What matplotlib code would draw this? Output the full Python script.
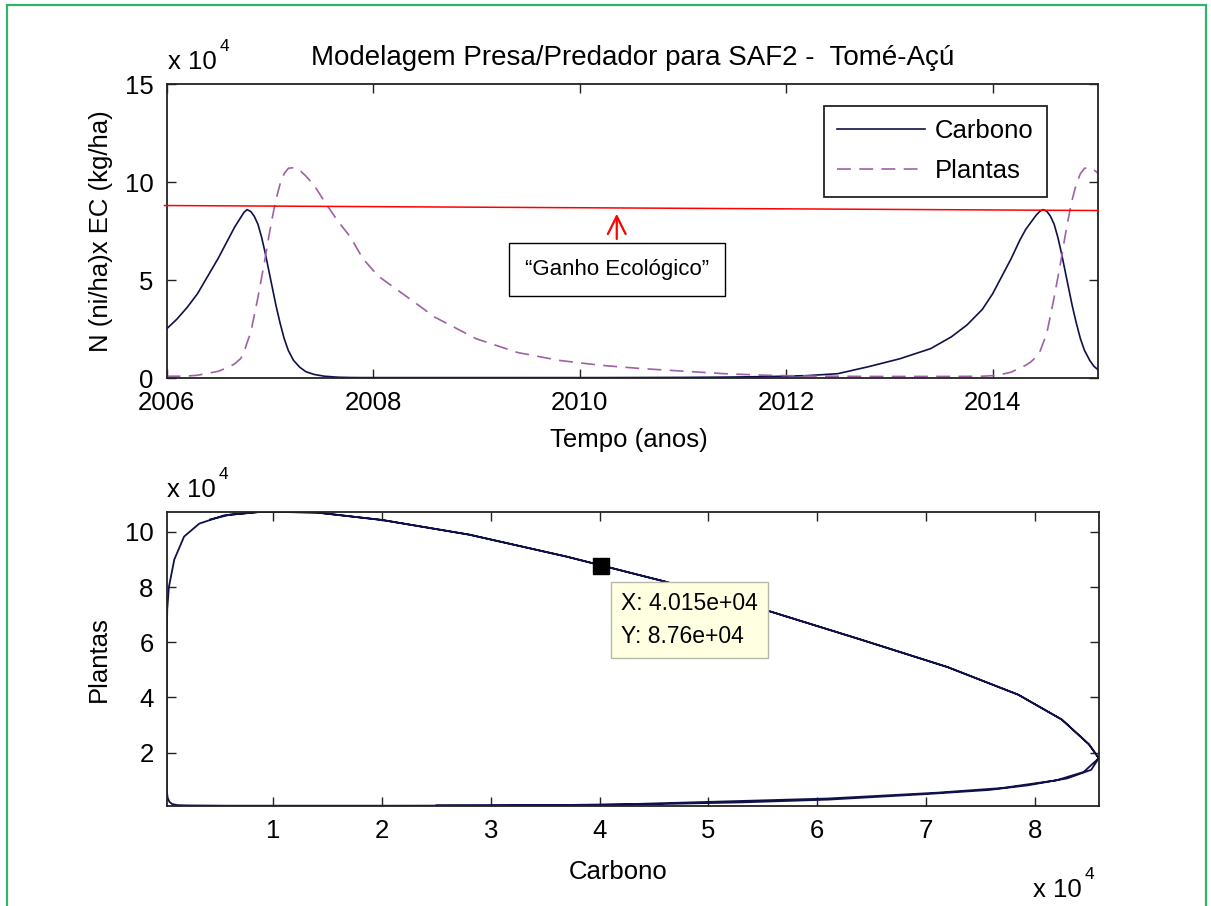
import numpy as np
import matplotlib
matplotlib.use("Agg")
import matplotlib.pyplot as plt
from matplotlib.patches import Rectangle

plt.rcParams['font.family'] = ['Liberation Sans', 'DejaVu Sans']
plt.rcParams['lines.scale_dashes'] = False

# ── Dados (valores em unidades de 10^4) ──────────────────────────
tempo = [2006.00, 2006.10, 2006.20, 2006.30, 2006.40, 2006.50, 2006.60, 2006.66,
         2006.72, 2006.75, 2006.78, 2006.815, 2006.85, 2006.885, 2006.92, 2006.955,
         2006.99, 2007.025, 2007.06, 2007.10, 2007.14, 2007.18, 2007.23, 2007.29,
         2007.35, 2007.43, 2007.53, 2007.66, 2007.78, 2007.90, 2008.05, 2008.30,
         2008.60, 2009.00, 2009.40, 2009.80, 2010.20, 2010.60, 2011.00, 2011.40,
         2011.80, 2012.20, 2012.50, 2012.80, 2013.10, 2013.40, 2013.60, 2013.75,
         2013.90, 2014.00, 2014.10, 2014.18, 2014.26, 2014.32, 2014.37, 2014.42,
         2014.46, 2014.49, 2014.525, 2014.56, 2014.595, 2014.63, 2014.665, 2014.70,
         2014.735, 2014.77, 2014.81, 2014.85, 2014.89, 2014.94, 2014.98, 2015.02]

carbono = [2.5, 3.0, 3.6, 4.3, 5.2, 6.1, 7.1, 7.7,
           8.2, 8.45, 8.59, 8.50, 8.25, 7.85, 7.2, 6.4,
           5.5, 4.6, 3.7, 2.8, 2.0, 1.4, 0.9, 0.55,
           0.32, 0.18, 0.09, 0.04, 0.025, 0.02, 0.02, 0.02,
           0.02, 0.02, 0.02, 0.02, 0.02, 0.025, 0.03, 0.045,
           0.07, 0.12, 0.22, 0.58, 0.98, 1.5, 2.1, 2.7,
           3.5, 4.3, 5.3, 6.1, 7.0, 7.58, 7.94, 8.3,
           8.52, 8.59, 8.50, 8.25, 7.85, 7.2, 6.4, 5.5,
           4.6, 3.7, 2.8, 2.0, 1.4, 0.9, 0.6, 0.42]

plantas = [0.09, 0.09, 0.10, 0.14, 0.24, 0.34, 0.55, 0.72,
           1.0, 1.3, 1.8, 2.3, 3.2, 4.1, 5.1, 6.1,
           7.2, 8.2, 9.1, 9.9, 10.43, 10.7, 10.73, 10.6,
           10.3, 9.83, 9.0, 8.0, 7.2, 6.1, 5.2, 4.25,
           3.1, 2.0, 1.3, 0.9, 0.65, 0.48, 0.35, 0.22,
           0.14, 0.10, 0.09, 0.08, 0.08, 0.08, 0.08, 0.085,
           0.09, 0.12, 0.20, 0.30, 0.50, 0.65, 0.82, 1.07,
           1.38, 1.8, 2.3, 3.2, 4.1, 5.1, 6.1, 7.2,
           8.2, 9.1, 9.9, 10.43, 10.7, 10.73, 10.62, 10.45]

ganho_ini = 8.80      # linha "Ganho Ecológico" (início / fim)
ganho_fim = 8.545
tip_x, tip_y = 4.015, 8.76   # data tip

W, H = 1211, 906
FS = 18.5
C_LINE = "#10104a"
C_PLANT = "#a060a6"

fig = plt.figure(figsize=(W / 100, H / 100), dpi=100)


def px(x, y):
    return x / W, 1 - y / H


# moldura verde
fig.patches.append(Rectangle(px(7, 960), (1206 - 7) / W, (960 - 5) / H,
                             transform=fig.transFigure, fill=False,
                             edgecolor="#2fb56a", linewidth=1.6))


def style_axes(ax):
    for s in ax.spines.values():
        s.set_linewidth(1.3)
        s.set_color("#222222")
    ax.tick_params(direction="in", top=True, right=True, length=6.5,
                   width=1.0, labelsize=FS, color="#222222")
    ax.tick_params(axis="x", pad=9.5)
    ax.tick_params(axis="y", pad=9.5)


def x10(x, y):
    fig.text(x / W, 1 - y / H, "x 10", fontsize=18.5, ha="left", va="baseline")
    fig.text((x + 52) / W, 1 - (y - 18) / H, "4", fontsize=12.5, ha="left",
             va="baseline")


# ── Gráfico superior: séries temporais ───────────────────────────
ax1 = fig.add_axes([166.5 / W, 1 - 378 / H, (1098 - 166.5) / W, (378 - 84) / H])
ax1.plot(tempo, carbono, color=C_LINE, lw=1.2, label="Carbono")
ax1.plot(tempo, plantas, color=C_PLANT, lw=1.2, dashes=(10, 6), label="Plantas")
ax1.set_xlim(2006, 2015.02)
ax1.set_ylim(0, 15)
ax1.set_xticks([2006, 2008, 2010, 2012, 2014])
ax1.set_yticks([0, 5, 10, 15])
style_axes(ax1)
ax1.set_title("Modelagem Presa/Predador para SAF2 -  Tomé-Açú", fontsize=20, pad=14)
ax1.set_xlabel("Tempo (anos)", fontsize=FS)
ax1.xaxis.set_label_coords((629 - 166.5) / (1098 - 166.5), -(440 - 378) / 294)
ax1.xaxis.label.set_va("center")
ax1.set_ylabel("N (ni/ha)x EC (kg/ha)", fontsize=FS, labelpad=8)
leg = ax1.legend(loc="upper right", bbox_to_anchor=(0.9453, 0.925), fontsize=FS,
                 fancybox=False, framealpha=1, edgecolor="#222222",
                 handlelength=3.4, handletextpad=0.4, borderpad=0.52,
                 labelspacing=0.62, borderaxespad=0)
leg.get_frame().set_linewidth(1.3)

# linha "Ganho Ecológico"
ax1.plot([2005.98, 2015.02], [ganho_ini, ganho_fim], color="red", lw=1.1,
         clip_on=False, zorder=5)
ax1.annotate("", xy=(2010.36, 8.52), xytext=(2010.36, 6.95),
             arrowprops=dict(arrowstyle="->", color="red", lw=1.6,
                             mutation_scale=32))
fig.text(617 / W, 1 - 269 / H, "\u201cGanho Ecológico\u201d", fontsize=16,
         ha="center", va="center",
         bbox=dict(boxstyle="square,pad=0.72", facecolor="white",
                   edgecolor="black", linewidth=1.0))

x10(168, 69)

# ── Gráfico inferior: plano de fase ──────────────────────────────
ax2 = fig.add_axes([166.7 / W, 1 - 805.7 / H, (1098.8 - 166.7) / W, (805.7 - 511.7) / H])
ax2.plot(carbono, plantas, color=C_LINE, lw=1.3)
ax2.set_xlim(min(carbono), max(carbono))
ax2.set_ylim(min(plantas), max(plantas))
ax2.set_xticks(range(1, 9))
ax2.set_yticks([2, 4, 6, 8, 10])
style_axes(ax2)
ax2.set_xlabel("Carbono", fontsize=FS)
ax2.xaxis.set_label_coords((618 - 166.7) / (1098.8 - 166.7), -(872 - 805.7) / 294)
ax2.xaxis.label.set_va("center")
ax2.set_ylabel("Plantas", fontsize=FS, labelpad=10)

ax2.plot([tip_x], [tip_y], marker="s", ms=11.5, color="black", zorder=6)
ax2.annotate(f"X: {tip_x * 1e4:.4g}\nY: {tip_y * 1e4:.4g}", xy=(tip_x, tip_y),
             xytext=(621 / W, 1 - 620 / H), textcoords="figure fraction",
             fontsize=16.5, ha="left", va="center", linespacing=1.55, zorder=7,
             bbox=dict(boxstyle="square,pad=0.45", facecolor="#ffffe1",
                       edgecolor="#b8b8a8", linewidth=1.0))

x10(167, 497)
x10(1033, 897)

fig.savefig("out.png", dpi=100)
